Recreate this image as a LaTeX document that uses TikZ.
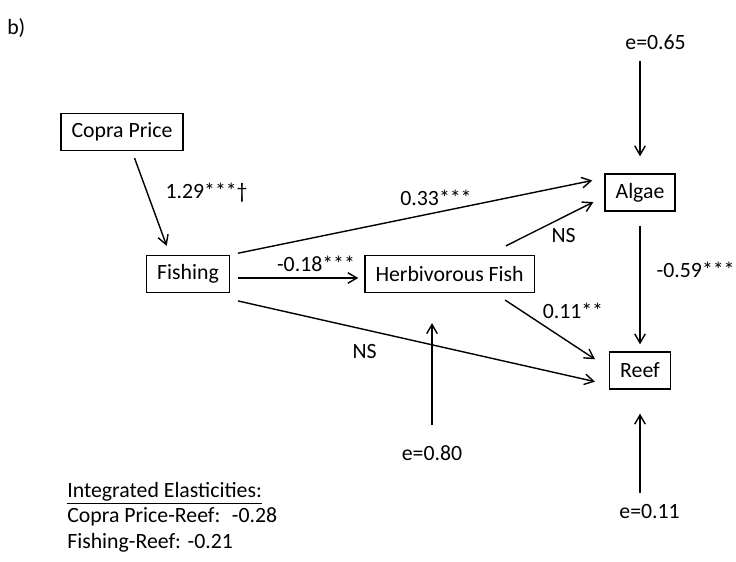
\documentclass[tikz,border=0pt]{standalone}
\usepackage{fontspec}
\setmainfont{Carlito}
\usetikzlibrary{arrows.meta,positioning}

\begin{document}
\begin{tikzpicture}[
    font=\fontsize{15.5pt}{18pt}\selectfont,
    block/.style={draw, line width=0.9pt, minimum height=0.925cm, inner xsep=7.5pt},
    coef/.style={inner sep=2pt},
    arrow/.style={line width=1pt, -{Straight Barb[length=6.5pt,width=7.5pt]}}
]
    \useasboundingbox (0,0) rectangle (18.4,14.025);

    \node (panel) [coef, anchor=west] at (0.105,13.325) {b)};

    \node (copra) [block] at (3.05,10.725) {Copra Price};
    \node (fishing) [block] at (4.7,7.175) {Fishing};
    \node (herb) [block] at (11.24,7.175) {Herbivorous Fish};
    \node (algae) [block] at (16.0,9.2125) {Algae};
    \node (reef) [block] at (16.0,4.7625) {Reef};

    \node (e65) [coef] at (16.39,12.975) {e=0.65};
    \node (e80) [coef] at (10.8,2.7) {e=0.80};
    \node (e11) [coef] at (16.24,1.225) {e=0.11};

    \draw [arrow, shorten <=0.185cm, shorten >=0.24cm] ([xshift=0.25cm]copra.south) -- node[coef, pos=0.4, right=0.37cm] {1.29***†} ([xshift=-0.45cm]fishing.north);
    \draw [arrow, shorten <=0.2cm, shorten >=0.31cm] (fishing.north east) -- node[coef, pos=0.55, above=0.08cm] {0.33***} ([yshift=-0.115cm]algae.north west);
    \draw [arrow, shorten <=0.2cm, shorten >=0.15cm] ([yshift=-0.1cm]fishing.east) -- node[coef, pos=0.64, above=0.08cm] {-0.18***} ([yshift=-0.1cm]herb.west);
    \draw [arrow, shorten <=0.205cm, shorten >=0.36cm] ([yshift=-0.15cm]fishing.south east) -- node[coef, pos=0.355, below=0.29cm] {NS} ([yshift=0.12cm]reef.south west);
    \draw [arrow, shorten <=0.5cm, shorten >=0.31cm] ([xshift=0.96cm]herb.north) -- node[coef, pos=0.65, below=0.2cm] {NS} ([yshift=-0.1cm]algae.west);
    \draw [arrow, shorten <=0.315cm, shorten >=0.42cm] ([xshift=1.125cm]herb.south) -- node[coef, pos=0.39, anchor=south west] {0.11**} ([yshift=0.05cm]reef.west);
    \draw [arrow, shorten <=0.35cm, shorten >=0.175cm] (algae.south) -- node[coef, pos=0.42, right=0.33cm] {-0.59***} (reef.north);

    % residual errors
    \draw [arrow, shorten <=0.22cm, shorten >=0.425cm] (e65.south -| algae.north) -- (algae.north);
    \draw [arrow, shorten <=0.425cm, shorten >=0.75cm] (e80.north) -- (e80.north |- herb.south);
    \draw [arrow, shorten <=0.22cm, shorten >=0.6cm] (e11.north -| reef.south) -- (reef.south);

    \node (elast) [coef, anchor=west, align=left] at (1.605,1.1) {\underline{Integrated Elasticities:}\\Copra Price-Reef:~ -0.28\\Fishing-Reef: -0.21};
\end{tikzpicture}
\end{document}
